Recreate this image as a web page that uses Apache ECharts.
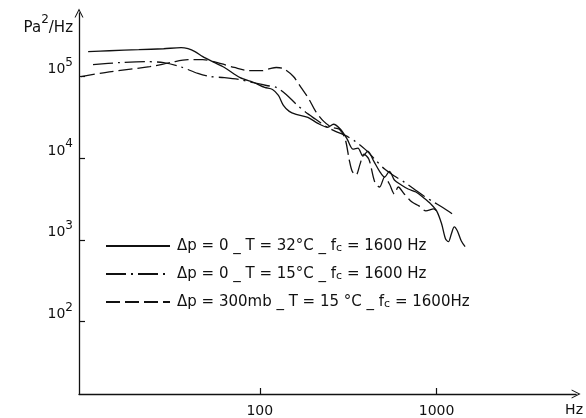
<!DOCTYPE html>
<html>
<head>
<meta charset="utf-8">
<script src="https://cdn.jsdelivr.net/npm/echarts@6/dist/echarts.min.js"></script>
<style>
html,body{margin:0;padding:0;background:#fff;}
#chart{width:586px;height:418px;}
</style>
</head>
<body>
<div id="chart"></div>
<script>
// ---- data (Hz, Pa^2/Hz) ----
const seriesNames = [
  'Δp = 0 _ T = 32°C _ f{sub|c} = 1600 Hz',
  'Δp = 0 _ T = 15°C _ f{sub|c} = 1600 Hz',
  'Δp = 300mb _ T = 15 °C _ f{sub|c} = 1600Hz'
];
const freqSolid = [10.7,14.1,20.7,28.6,35.9,39.3,43.0,47.6,54.1,63.1,77.4,92.6,106.6,118,127.5,136,146.8,160.6,187,213,242,261,286,312,337,359,383,408,441,476,508,541,577,631,690,764,847,926,1000,1067,1122,1166,1211,1259,1309,1377,1449];
const psdSolid  = [2.02e5,2.07e5,2.13e5,2.19e5,2.26e5,2.19e5,2.02e5,1.75e5,1.52e5,1.29e5,9.7e4,8.45e4,7.35e4,6.94e4,5.86e4,4.43e4,3.74e4,3.44e4,3.16e4,2.67e4,2.39e4,2.6e4,2.26e4,1.71e4,1.29e4,1.33e4,1.06e4,1.22e4,9.2e3,6.9e3,5.86e3,6.9e3,5.4e3,4.69e3,4.19e3,3.85e3,3.25e3,2.75e3,2.26e3,1.57e3,1.03e3,947,1.18e3,1.44e3,1.29e3,973,822];
const freqDashDot = [11.4,16.1,22.4,28.6,35.5,44.7,52.1,63.1,76.4,90.3,109,124,141,161,182,207,236,268,304,346,393,447,508,577,656,745,847,962,1094,1276];
const psdDashDot  = [1.4e5,1.48e5,1.52e5,1.48e5,1.32e5,1.09e5,1.0e5,9.7e4,9.2e4,8.45e4,7.76e4,7.35e4,6.03e4,4.56e4,3.64e4,2.99e4,2.46e4,2.13e4,1.9e4,1.61e4,1.29e4,9.7e3,7.35e3,6.03e3,5.09e3,4.19e3,3.44e3,2.9e3,2.45e3,1.96e3];
const freqDashed = [9.75,14.5,23.9,31.2,39.3,47.6,57.7,71.7,86.9,103,114,124,136,155,171,190,207,230,255,282,304,320,333,350,369,388,414,447,476,508,541,577,607,656,726,794,869,962,1040];
const psdDashed  = [1.0e5,1.15e5,1.32e5,1.48e5,1.61e5,1.61e5,1.48e5,1.29e5,1.18e5,1.18e5,1.25e5,1.29e5,1.25e5,1.0e5,7.35e4,5.25e4,3.74e4,2.82e4,2.39e4,2.26e4,1.71e4,9.7e3,6.9e3,6.2e3,8.45e3,1.12e4,9.7e3,5.09e3,4.43e3,5.86e3,4.82e3,3.64e3,4.43e3,3.64e3,2.9e3,2.6e3,2.26e3,2.39e3,2.02e3];
const xTickValues = [100, 1000];
const yTickValues = [100, 1000, 10000, 100000];
const xRange = [9.5, 6150];
const yRange = [12.9, 6.0e5];

// ---- build ----
const L = Math.log10;
function pts(fs, ps){ return fs.map((f,i)=>[L(f), L(ps[i])]); }
const ink = '#111';
const chevron = 'path://M0,10 L5,0 L10,10 L8.8,10 L5,2.4 L1.2,10 Z';
const chart = echarts.init(document.getElementById('chart'));
const font = 'DejaVu Sans';
chart.setOption({
  backgroundColor: '#fff',
  animation: false,
  grid: {left: 79, right: 1, top: 13, bottom: 22, containLabel: false},
  legend: {
    orient: 'vertical', left: 100, top: 233,
    itemWidth: 64, itemHeight: 14, itemGap: 12,
    data: seriesNames,
    itemStyle: {opacity: 0, color: 'rgba(0,0,0,0)', borderWidth: 0},
    textStyle: {
      fontFamily: font, fontSize: 15, lineHeight: 16, color: ink, padding: [0,0,0,2],
      rich: {sub: {fontFamily: font, fontSize: 11, color: ink, verticalAlign: 'bottom', padding: [7,0,0,0]}}
    },
    formatter: n => n
  },
  xAxis: {
    type: 'value', min: L(xRange[0]), max: L(xRange[1]),
    axisLine: {lineStyle: {color: ink, width: 1.3}, symbol: ['none', chevron], symbolSize: [9, 10]},
    axisTick: {show: true, inside: true, length: 6, lineStyle: {color: ink, width: 1.2}, customValues: xTickValues.map(L)},
    axisLabel: {customValues: xTickValues.map(L), formatter: v => String(Math.round(Math.pow(10, v))), fontFamily: font, fontSize: 14, color: ink, margin: 10},
    splitLine: {show: false},
    name: 'Hz', nameLocation: 'end', nameGap: -11,
    nameTextStyle: {fontFamily: font, fontSize: 14, color: ink, align: 'left', verticalAlign: 'top', padding: [9,0,0,0]}
  },
  yAxis: {
    type: 'value', min: L(yRange[0]), max: L(yRange[1]),
    axisLine: {lineStyle: {color: ink, width: 1.3}, symbol: ['none', chevron], symbolSize: [9, 10]},
    axisTick: {show: true, inside: true, length: 6, lineStyle: {color: ink, width: 1.2}, customValues: yTickValues.map(L)},
    axisLabel: {
      customValues: yTickValues.map(L), margin: 6, verticalAlign: 'bottom',
      formatter: v => '{b|10}{s|' + Math.round(v) + '}',
      rich: {
        b: {fontFamily: font, fontSize: 14, color: ink, verticalAlign: 'bottom', lineHeight: 20},
        s: {fontFamily: font, fontSize: 12, color: ink, verticalAlign: 'top'}
      }
    },
    splitLine: {show: false},
    name: '{m|Pa}{s|2}{m|/Hz}', nameLocation: 'end', nameGap: -12,
    nameTextStyle: {
      fontFamily: font, fontSize: 15, color: ink, align: 'right', verticalAlign: 'middle', padding: [0,6,0,0],
      rich: {
        m: {fontFamily: font, fontSize: 15, color: ink, verticalAlign: 'bottom', lineHeight: 22},
        s: {fontFamily: font, fontSize: 12, color: ink, verticalAlign: 'top'}
      }
    }
  },
  series: [
    {name: seriesNames[0], type: 'line', data: pts(freqSolid, psdSolid), symbol: 'none', smooth: 0.3,
     lineStyle: {color: ink, width: 1.3, type: 'solid'}, itemStyle: {color: ink}},
    {name: seriesNames[1], type: 'line', data: pts(freqDashDot, psdDashDot), symbol: 'none', smooth: 0.3,
     lineStyle: {color: ink, width: 1.3, type: [20,5,2,5]}, itemStyle: {color: ink}},
    {name: seriesNames[2], type: 'line', data: pts(freqDashed, psdDashed), symbol: 'none', smooth: 0.3,
     lineStyle: {color: ink, width: 1.3, type: [14,5]}, itemStyle: {color: ink}}
  ]
});
</script>
</body>
</html>
